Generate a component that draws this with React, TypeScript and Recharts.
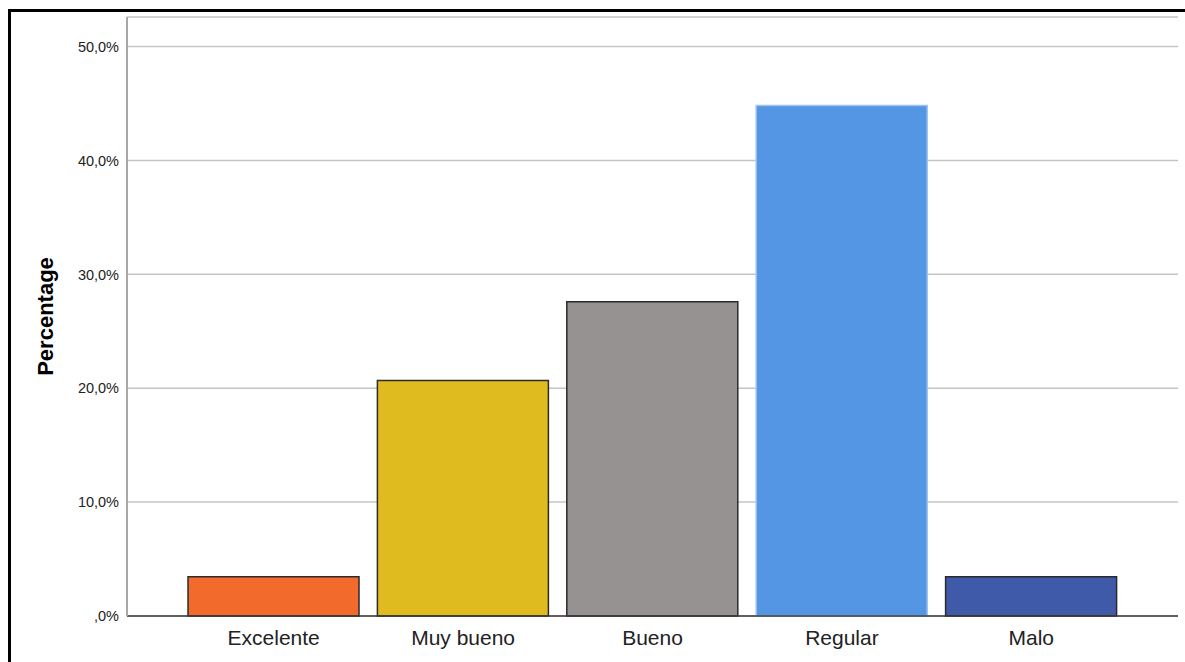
import React from "react";
import {
  BarChart,
  Bar,
  Cell,
  CartesianGrid,
  XAxis,
  YAxis,
} from "recharts";

const categories = ["Excelente", "Muy bueno", "Bueno", "Regular", "Malo"];
const percentages = [3.45, 20.69, 27.59, 44.83, 3.45];
const barColors = ["#f26a2c", "#e0bb20", "#969291", "#5596e4", "#3f5aa8"];
const barStrokes = ["#2b2b2b", "#2b2b2b", "#2b2b2b", "#9cc2f0", "#2b2b2b"];
const yTicks = [0, 10, 20, 30, 40, 50];

const data = categories.map((name, i) => ({ name, value: percentages[i] }));

const formatPct = (v: number) =>
  v === 0 ? ",0%" : v.toFixed(1).replace(".", ",") + "%";

function App() {
  return (
    <div
      style={{
        position: "relative",
        width: 1185,
        height: 662,
        background: "#fff",
        overflow: "hidden",
        fontFamily: "'Liberation Sans', Arial, sans-serif",
      }}
    >
      <style>{"body{margin:0}"}</style>
      <div
        style={{
          position: "absolute",
          left: 8,
          top: 9,
          width: 1300,
          height: 800,
          borderLeft: "3px solid #000",
          borderTop: "3px solid #000",
        }}
      />
      <div style={{ position: "absolute", left: 0, top: 0 }}>
        <BarChart
          width={1185}
          height={662}
          data={data}
          margin={{ top: 17, right: 7, bottom: 6, left: 10 }}
        >
          <CartesianGrid
            vertical={false}
            stroke="#c4c4c4"
            strokeWidth={1.5}
          />
          <XAxis
            dataKey="name"
            height={40}
            padding={{ left: 52, right: 52 }}
            tickLine={false}
            axisLine={{ stroke: "#3a3a3a", strokeWidth: 1.5 }}
            tick={{ fill: "#222", fontSize: 21 }}
            tickMargin={8}
          />
          <YAxis
            width={117}
            domain={[0, 52.6]}
            ticks={yTicks}
            tickFormatter={formatPct}
            tickLine={false}
            axisLine={{ stroke: "#a8a8a8", strokeWidth: 2 }}
            tick={{ fill: "#222", fontSize: 14.5 }}
            label={{
              value: "Percentage",
              angle: -90,
              position: "insideLeft",
              offset: 35,
              style: {
                textAnchor: "middle",
                fontWeight: "bold",
                fontSize: 22,
                fill: "#000",
              },
            }}
          />
          <Bar dataKey="value" barSize={171} isAnimationActive={false}>
            {data.map((d, i) => (
              <Cell
                key={d.name}
                fill={barColors[i]}
                stroke={barStrokes[i]}
                strokeWidth={1.5}
              />
            ))}
          </Bar>
        </BarChart>
      </div>
    </div>
  );
}

export default App;
